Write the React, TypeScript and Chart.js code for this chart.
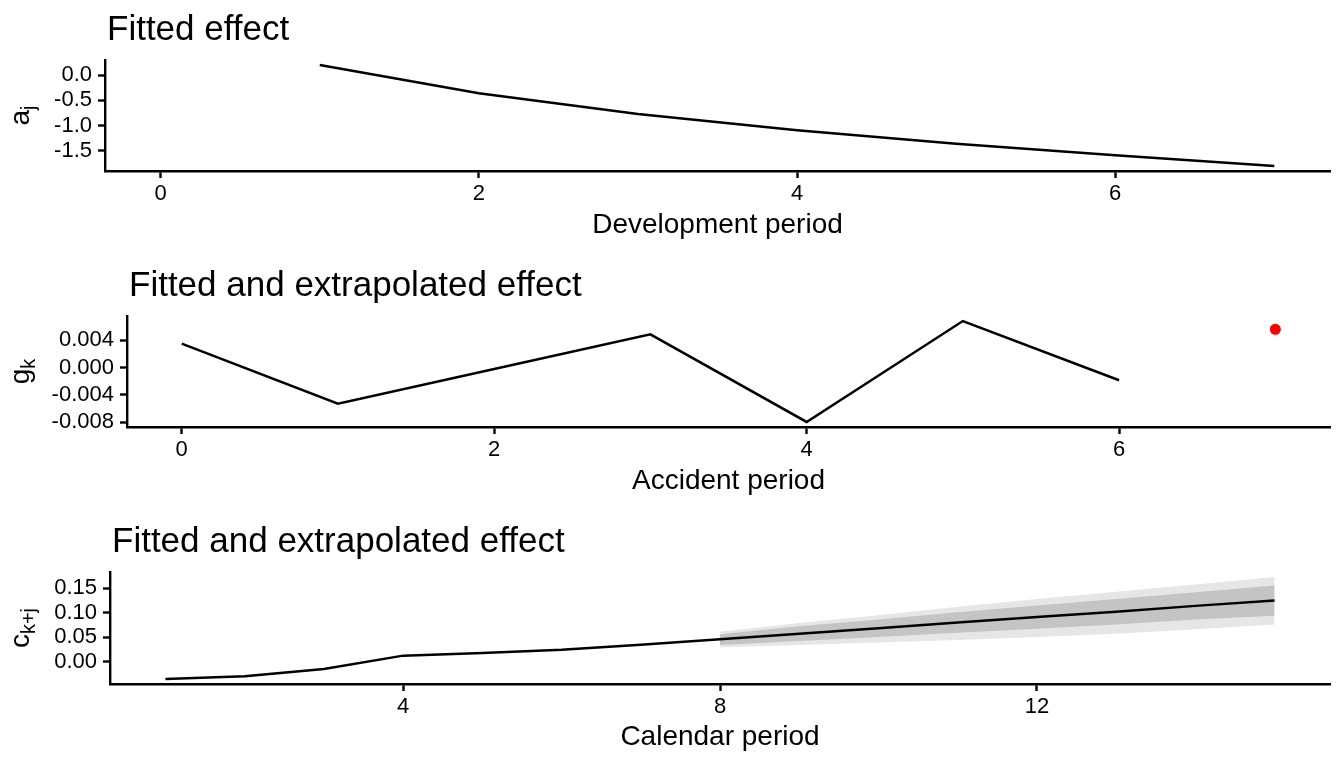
import React, { useEffect, useRef } from 'react';
import { Chart, registerables } from 'chart.js';

Chart.register(...registerables);

const FONT = "'Liberation Sans', Arial, Helvetica, sans-serif";
const W = 1344;
const H = 256;

// top panel: development period effect a_j (no value at 0)
const devPeriod = [0, 1, 2, 3, 4, 5, 6, 7];
const devEffect = [null, 0.2, -0.36, -0.77, -1.09, -1.36, -1.59, -1.8];
const devXTicks = [0, 2, 4, 6];
const devYTicks = [-1.5, -1.0, -0.5, 0.0];

// middle panel: accident period effect g_k, plus one extrapolated point
const accPeriod = [0, 1, 2, 3, 4, 5, 6];
const accEffect = [0.0035, -0.00526, -0.0002, 0.00486, -0.00794, 0.0068, -0.00185];
const accExtraPeriod = [7];
const accExtraEffect = [0.0056];
const accXTicks = [0, 2, 4, 6];
const accYTicks = [-0.008, -0.004, 0.0, 0.004];

// bottom panel: calendar period effect c_{k+j}, fitted to 8 then extrapolated
const calPeriod = [1, 2, 3, 4, 5, 6, 7, 8, 9, 10, 11, 12, 13, 14, 15];
const calEffect = [-0.0357, -0.0300, -0.0152, 0.0120, 0.0172, 0.0240, 0.0345, 0.0455, 0.057, 0.068, 0.080, 0.091, 0.102, 0.114, 0.125];
const bandPeriod = [8, 9, 10, 11, 12, 13, 14, 15];
const innerHi = [0.056, 0.072, 0.086, 0.101, 0.115, 0.128, 0.142, 0.156];
const innerLo = [0.034, 0.042, 0.050, 0.059, 0.067, 0.076, 0.086, 0.094];
const outerHi = [0.061, 0.079, 0.095, 0.112, 0.128, 0.143, 0.158, 0.173];
const outerLo = [0.029, 0.034, 0.039, 0.044, 0.050, 0.057, 0.066, 0.076];
const calXTicks = [4, 8, 12];
const calYTicks = [0.0, 0.05, 0.1, 0.15];

// ggplot-like 5% expansion of the data range
function expand(vals: (number | null)[]) {
  const v = vals.filter((d): d is number => d !== null);
  const lo = Math.min(...v);
  const hi = Math.max(...v);
  const pad = (hi - lo) * 0.05;
  return { min: lo - pad, max: hi + pad };
}

const pts = (xs: number[], ys: (number | null)[]) => xs.map((x, i) => ({ x, y: ys[i] }));

function axis(range: { min: number; max: number }, ticks: number[], digits: number, size: number, horizontal: boolean) {
  return {
    type: 'linear',
    min: range.min,
    max: range.max,
    afterBuildTicks: (s: any) => {
      s.ticks = ticks.map(v => ({ value: v }));
    },
    afterFit: (s: any) => {
      if (horizontal) s.height = size;
      else s.width = size;
    },
    grid: { display: true, drawOnChartArea: false, drawTicks: true, tickLength: 7, tickWidth: 2.4, tickColor: '#000', color: '#000' },
    border: { display: true, color: '#000', width: 2.4 },
    ticks: {
      color: '#000',
      font: { size: 22, family: FONT },
      padding: horizontal ? 3 : 6,
      autoSkip: false,
      maxRotation: 0,
      callback: (v: any) => Number(v).toFixed(digits),
    },
    title: { display: false },
  };
}

function panelText(title: string, xTitle: string, yMain: string, ySub: string) {
  return {
    id: 'panelText',
    afterDraw(chart: any) {
      const { ctx, chartArea } = chart;
      ctx.save();
      ctx.fillStyle = '#000';
      ctx.textBaseline = 'alphabetic';
      ctx.font = `35px ${FONT}`;
      ctx.textAlign = 'left';
      ctx.fillText(title, chartArea.left + 2, 40);
      ctx.font = `28px ${FONT}`;
      ctx.textAlign = 'center';
      ctx.fillText(xTitle, (chartArea.left + chartArea.right) / 2, 233);
      // rotated y title with subscript
      ctx.translate(29, (chartArea.top + chartArea.bottom) / 2);
      ctx.rotate(-Math.PI / 2);
      ctx.textAlign = 'left';
      ctx.font = `28px ${FONT}`;
      const wMain = ctx.measureText(yMain).width;
      ctx.font = `20px ${FONT}`;
      const wSub = ctx.measureText(ySub).width;
      const x0 = -(wMain + wSub) / 2;
      ctx.font = `28px ${FONT}`;
      ctx.fillText(yMain, x0, 0);
      ctx.font = `20px ${FONT}`;
      ctx.fillText(ySub, x0 + wMain, 6);
      ctx.restore();
    },
  };
}

function baseOptions(x: any, y: any) {
  return {
    responsive: false,
    animation: false,
    layout: { padding: { top: 60, right: 14, left: 0, bottom: 0 } },
    plugins: { legend: { display: false }, tooltip: { enabled: false } },
    scales: { x, y },
  };
}

const lineStyle = { borderColor: '#000', borderWidth: 2.5, pointRadius: 0, fill: false, tension: 0 };

export default function App() {
  const ref1 = useRef<HTMLCanvasElement | null>(null);
  const ref2 = useRef<HTMLCanvasElement | null>(null);
  const ref3 = useRef<HTMLCanvasElement | null>(null);

  useEffect(() => {
    Chart.defaults.font.family = FONT;
    const charts: Chart[] = [];

    charts.push(new Chart(ref1.current!, {
      type: 'line',
      data: { datasets: [{ data: pts(devPeriod, devEffect), ...lineStyle }] as any },
      options: baseOptions(
        axis(expand(devPeriod), devXTicks, 0, H - 171, true),
        axis(expand(devEffect), devYTicks, 1, 105, false),
      ) as any,
      plugins: [panelText('Fitted effect', 'Development period', 'a', 'j')],
    }));

    charts.push(new Chart(ref2.current!, {
      type: 'line',
      data: {
        datasets: [
          { data: pts(accPeriod, accEffect), ...lineStyle },
          {
            data: pts(accExtraPeriod, accExtraEffect),
            showLine: false,
            pointRadius: 5.5,
            pointBackgroundColor: '#ff0000',
            pointBorderWidth: 0,
            borderColor: '#ff0000',
          },
        ] as any,
      },
      options: baseOptions(
        axis(expand([...accPeriod, ...accExtraPeriod]), accXTicks, 0, H - 171, true),
        axis(expand([...accEffect, ...accExtraEffect]), accYTicks, 3, 127, false),
      ) as any,
      plugins: [panelText('Fitted and extrapolated effect', 'Accident period', 'g', 'k')],
    }));

    charts.push(new Chart(ref3.current!, {
      type: 'line',
      data: {
        datasets: [
          { data: pts(calPeriod, calEffect), ...lineStyle, order: 0 },
          { data: pts(bandPeriod, innerHi), borderWidth: 0, pointRadius: 0, fill: '+1', backgroundColor: '#c4c4c4', order: 1 },
          { data: pts(bandPeriod, innerLo), borderWidth: 0, pointRadius: 0, fill: false, order: 1 },
          { data: pts(bandPeriod, outerHi), borderWidth: 0, pointRadius: 0, fill: '+1', backgroundColor: '#e6e6e6', order: 2 },
          { data: pts(bandPeriod, outerLo), borderWidth: 0, pointRadius: 0, fill: false, order: 2 },
        ] as any,
      },
      options: baseOptions(
        axis(expand(calPeriod), calXTicks, 0, H - 172, true),
        axis(expand([...calEffect, ...outerHi, ...outerLo]), calYTicks, 2, 110, false),
      ) as any,
      plugins: [panelText('Fitted and extrapolated effect', 'Calendar period', 'c', 'k+j')],
    }));

    return () => charts.forEach(c => c.destroy());
  }, []);

  const canvasStyle = { display: 'block', width: W, height: H };
  return (
    <div style={{ position: 'absolute', left: 0, top: 0, width: W, height: 3 * H, background: '#fff' }}>
      <canvas ref={ref1} width={W} height={H} style={canvasStyle} />
      <canvas ref={ref2} width={W} height={H} style={canvasStyle} />
      <canvas ref={ref3} width={W} height={H} style={canvasStyle} />
    </div>
  );
}
